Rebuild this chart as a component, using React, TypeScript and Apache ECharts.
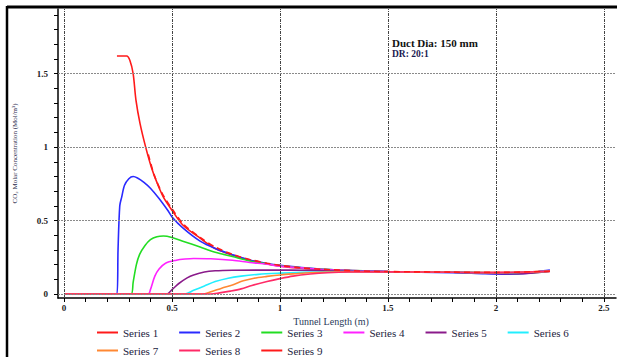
import React, { useEffect, useRef } from "react";
import * as echarts from "echarts";

const seriesNames = ["Series 1", "Series 2", "Series 3", "Series 4", "Series 5", "Series 6", "Series 7", "Series 8", "Series 9"];
const seriesColors = ["#ff1a1a", "#2a2aff", "#22dd22", "#ff22ff", "#8a1a8a", "#22eeff", "#ff8833", "#ff2a66", "#ff1a1a"];

const s1x = [0.245, 0.29, 0.305, 0.32, 0.333, 0.352, 0.378, 0.405, 0.43, 0.46, 0.5, 0.55, 0.63, 0.7, 0.78, 0.86, 0.94, 1.0, 1.09, 1.2, 1.3, 1.5, 1.8, 2.0, 2.1, 2.25];
const s1y = [1.62, 1.62, 1.59, 1.5, 1.32, 1.16, 1.0, 0.86, 0.76, 0.66, 0.57, 0.47, 0.38, 0.31, 0.265, 0.23, 0.205, 0.19, 0.175, 0.165, 0.158, 0.152, 0.148, 0.146, 0.148, 0.155];

const s2x = [0, 0.245, 0.25, 0.258, 0.267, 0.28, 0.3, 0.32, 0.34, 0.37, 0.4, 0.44, 0.48, 0.5, 0.55, 0.63, 0.7, 0.78, 0.86, 0.94, 1.0, 1.1, 1.2, 1.35, 1.5, 1.8, 1.95, 2.05, 2.15, 2.22, 2.25];
const s2y = [0, 0, 0.3, 0.6, 0.66, 0.74, 0.785, 0.8, 0.79, 0.76, 0.72, 0.65, 0.57, 0.525, 0.45, 0.36, 0.31, 0.268, 0.232, 0.208, 0.195, 0.18, 0.168, 0.158, 0.152, 0.146, 0.138, 0.135, 0.142, 0.158, 0.163];

const s3x = [0, 0.31, 0.32, 0.335, 0.35, 0.375, 0.4, 0.43, 0.46, 0.5, 0.55, 0.63, 0.7, 0.78, 0.86, 0.94, 1.0, 1.1, 1.2, 1.35, 1.5, 1.8, 2.0, 2.1, 2.25];
const s3y = [0, 0, 0.08, 0.2, 0.27, 0.33, 0.37, 0.39, 0.395, 0.385, 0.36, 0.32, 0.285, 0.255, 0.225, 0.205, 0.192, 0.178, 0.168, 0.16, 0.153, 0.148, 0.143, 0.14, 0.155];

const s4x = [0, 0.39, 0.4, 0.42, 0.44, 0.47, 0.52, 0.56, 0.6, 0.68, 0.78, 0.86, 0.94, 1.0, 1.1, 1.2, 1.35, 1.5, 1.8, 2.0, 2.25];
const s4y = [0, 0, 0.03, 0.12, 0.17, 0.21, 0.23, 0.238, 0.242, 0.24, 0.23, 0.215, 0.203, 0.19, 0.178, 0.167, 0.16, 0.153, 0.148, 0.143, 0.154];

const s5x = [0, 0.475, 0.5, 0.53, 0.57, 0.6, 0.65, 0.7, 0.78, 0.9, 1.0, 1.1, 1.2, 1.35, 1.5, 1.8, 2.0, 2.1, 2.25];
const s5y = [0, 0, 0.03, 0.07, 0.11, 0.13, 0.15, 0.158, 0.162, 0.163, 0.163, 0.162, 0.16, 0.157, 0.153, 0.148, 0.14, 0.138, 0.156];

const s6x = [0, 0.56, 0.6, 0.65, 0.7, 0.76, 0.82, 0.9, 1.0, 1.1, 1.2, 1.35, 1.5, 1.8, 2.0, 2.25];
const s6y = [0, 0, 0.025, 0.055, 0.085, 0.108, 0.122, 0.134, 0.142, 0.148, 0.152, 0.153, 0.152, 0.148, 0.145, 0.155];

const s7x = [0, 0.64, 0.68, 0.73, 0.78, 0.83, 0.88, 0.94, 1.0, 1.07, 1.14, 1.25, 1.4, 1.6, 1.8, 2.0, 2.25];
const s7y = [0, 0, 0.015, 0.04, 0.062, 0.09, 0.108, 0.12, 0.13, 0.138, 0.145, 0.15, 0.152, 0.151, 0.148, 0.146, 0.154];

const s8x = [0, 0.68, 0.72, 0.77, 0.82, 0.87, 0.94, 1.0, 1.06, 1.14, 1.22, 1.32, 1.5, 1.8, 2.0, 2.25];
const s8y = [0, 0, 0.008, 0.02, 0.035, 0.058, 0.085, 0.105, 0.122, 0.136, 0.145, 0.15, 0.151, 0.148, 0.146, 0.155];

const s9x = [0.39, 0.42, 0.46, 0.5, 0.55, 0.63, 0.7, 0.78, 0.86, 0.94, 1.0, 1.1, 1.2, 1.35, 1.5, 1.8, 2.0, 2.25];
const s9y = [0.95, 0.8, 0.67, 0.58, 0.48, 0.385, 0.32, 0.27, 0.235, 0.21, 0.195, 0.178, 0.168, 0.158, 0.153, 0.149, 0.147, 0.155];

const xs = [s1x, s2x, s3x, s4x, s5x, s6x, s7x, s8x, s9x];
const ys = [s1y, s2y, s3y, s4y, s5y, s6y, s7y, s8y, s9y];

const xMajorTicks = [0, 0.5, 1, 1.5, 2, 2.5];
const yMajorTicks = [0, 0.5, 1, 1.5];
const xMinorTicks = [0, 0.1, 0.2, 0.3, 0.4, 0.5, 0.6, 0.7, 0.8, 0.9, 1, 1.1, 1.2, 1.3, 1.4, 1.5, 1.6, 1.7, 1.8, 1.9, 2, 2.1, 2.2, 2.3, 2.4, 2.5];
const yMinorTicks = [0, 0.1, 0.2, 0.3, 0.4, 0.5, 0.6, 0.7, 0.8, 0.9, 1, 1.1, 1.2, 1.3, 1.4, 1.5, 1.6, 1.7, 1.8, 1.9];

const xName = "Tunnel Length (m)";
const yName = "CO\u2082 Molar Concentration (Mol/m\u00b3)";
const note1 = "Duct Dia: 150 mm";
const note2 = "DR: 20:1";

const FONT = "Liberation Serif";

export default function App() {
  const ref = useRef<HTMLDivElement>(null);
  useEffect(() => {
    if (!ref.current) return;
    const chart = echarts.init(ref.current, undefined, { renderer: "svg" });
    const lines = seriesNames.map((name, i) => ({
      name,
      type: "line",
      data: xs[i].map((x, k) => [x, ys[i][k]]),
      symbol: "none",
      smooth: 0.3,
      z: 3,
      lineStyle: { color: seriesColors[i], width: 1.6, type: i === 8 ? [6, 4] : "solid" },
      itemStyle: { color: seriesColors[i] },
    }));
    const gridSeries = {
      name: "grid",
      type: "line",
      data: [],
      silent: true,
      z: 1,
      markLine: {
        silent: true,
        symbol: ["none", "none"],
        label: { show: false },
        animation: false,
        data: [
          ...xMajorTicks.map((v) => ({ xAxis: v, lineStyle: { color: "#444", width: 1, type: [3, 1, 1, 1] } })),
          ...yMajorTicks.map((v) => ({ yAxis: v, lineStyle: { color: "#8a8a8a", width: 1, type: [2, 1] } })),
        ],
      },
    };
    const legendCommon = {
      itemWidth: 21,
      itemHeight: 8,
      itemGap: 21,
      padding: 0,
      icon: "path://M0,3 L21,3 L21,5 L0,5 Z",
      textStyle: { fontFamily: FONT, fontSize: 11, color: "#1c1c40" },
    };
    chart.setOption({
      animation: false,
      backgroundColor: "#ffffff",
      textStyle: { fontFamily: FONT },
      grid: { left: 58, right: 1, top: 9, bottom: 59 },
      xAxis: {
        type: "value",
        min: -0.028,
        max: 2.556,
        name: xName,
        nameLocation: "middle",
        nameGap: 18,
        nameTextStyle: { fontFamily: FONT, fontSize: 10, color: "#2a3a5a", padding: [0, 12, 0, 0] },
        axisLine: { show: true, onZero: false, lineStyle: { color: "#000", width: 1.5 } },
        axisTick: { show: true, length: 4, inside: false, customValues: xMinorTicks, lineStyle: { color: "#000" } },
        axisLabel: {
          customValues: xMajorTicks,
          margin: 5,
          fontFamily: FONT,
          fontSize: 9,
          fontWeight: "bold",
          color: "#222",
          formatter: (v: number) => String(v),
        },
        splitLine: { show: false },
      },
      yAxis: {
        type: "value",
        min: -0.027,
        max: 1.94,
        name: yName,
        nameLocation: "middle",
        nameGap: 40,
        nameTextStyle: { fontFamily: FONT, fontSize: 7, color: "#2a2a4a" },
        axisLine: { show: true, onZero: false, lineStyle: { color: "#000", width: 1.5 } },
        axisTick: { show: true, length: 4, inside: false, customValues: yMinorTicks, lineStyle: { color: "#000" } },
        axisLabel: {
          customValues: yMajorTicks,
          margin: 10,
          fontFamily: FONT,
          fontSize: 9,
          fontWeight: "bold",
          color: "#222",
          formatter: (v: number) => String(v),
        },
        splitLine: { show: false },
      },
      legend: [
        { ...legendCommon, left: 97, top: 327, data: seriesNames.slice(0, 6) },
        { ...legendCommon, left: 97, top: 345, data: seriesNames.slice(6, 9) },
      ],
      graphic: [
        { type: "line", shape: { x1: 7, y1: 7, x2: 617, y2: 7 }, style: { stroke: "#000", lineWidth: 3 } },
        { type: "line", shape: { x1: 7, y1: 6, x2: 7, y2: 357 }, style: { stroke: "#000", lineWidth: 2.5 } },
        { type: "text", left: 392, top: 37, style: { text: note1, fontFamily: FONT, fontSize: 11, fontWeight: "bold", fill: "#111" } },
        { type: "text", left: 392, top: 49, style: { text: note2, fontFamily: FONT, fontSize: 9.5, fontWeight: "bold", fill: "#1a1a50" } },
      ],
      series: [gridSeries, ...lines],
    });
    return () => chart.dispose();
  }, []);
  return <div ref={ref} style={{ position: "fixed", left: 0, top: 0, width: 617, height: 357 }} />;
}
